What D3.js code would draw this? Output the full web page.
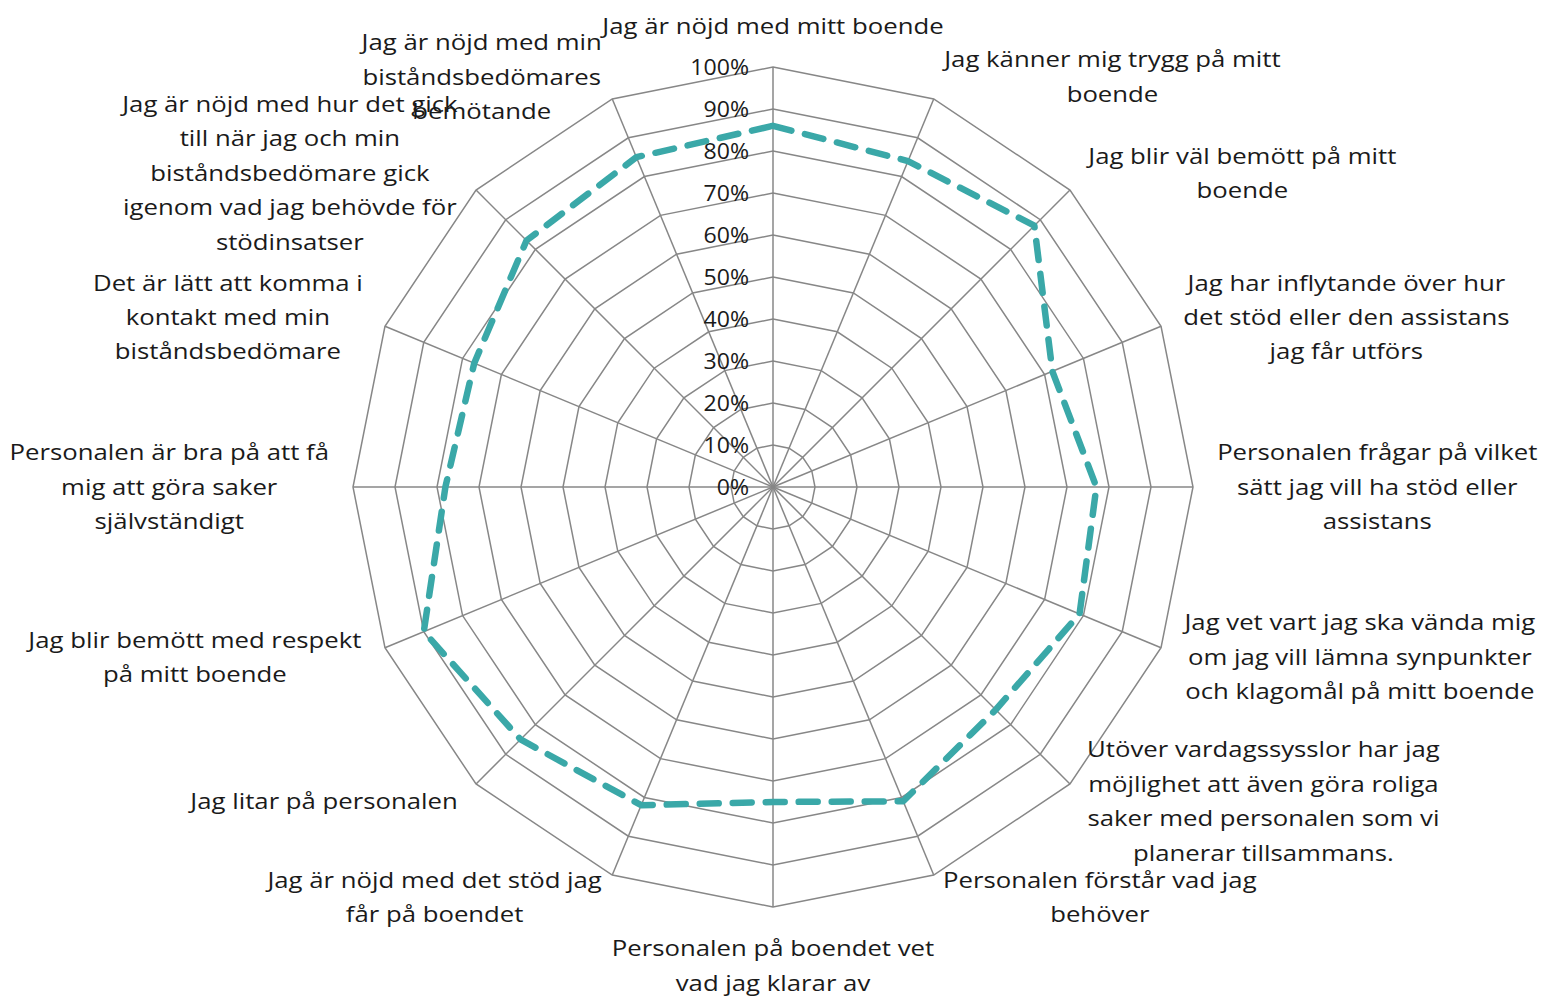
<!DOCTYPE html>
<html>
<head>
<meta charset="utf-8">
<script src="https://cdn.jsdelivr.net/npm/d3@7"></script>
<style>
  body { margin: 0; background: #fff; }
  text { font-family: "Open Sans", sans-serif; fill: #1a1a1a; }
</style>
</head>
<body>
<svg id="chart" width="1543" height="1000"></svg>
<script>
// categories, clockwise from the top (line breaks as in the chart)
const categories = [
  "Jag är nöjd med mitt boende",
  "Jag känner mig trygg på mitt\nboende",
  "Jag blir väl bemött på mitt\nboende",
  "Jag har inflytande över hur\ndet stöd eller den assistans\njag får utförs",
  "Personalen frågar på vilket\nsätt jag vill ha stöd eller\nassistans",
  "Jag vet vart jag ska vända mig\nom jag vill lämna synpunkter\noch klagomål på mitt boende",
  "Utöver vardagssysslor har jag\nmöjlighet att även göra roliga\nsaker med personalen som vi\nplanerar tillsammans.",
  "Personalen förstår vad jag\nbehöver",
  "Personalen på boendet vet\nvad jag klarar av",
  "Jag är nöjd med det stöd jag\nfår på boendet",
  "Jag litar på personalen",
  "Jag blir bemött med respekt\npå mitt boende",
  "Personalen är bra på att få\nmig att göra saker\nsjälvständigt",
  "Det är lätt att komma i\nkontakt med min\nbiståndsbedömare",
  "Jag är nöjd med hur det gick\ntill när jag och min\nbiståndsbedömare gick\nigenom vad jag behövde för\nstödinsatser",
  "Jag är nöjd med min\nbiståndsbedömares\nbemötande"
];
const values = [0.86, 0.84, 0.88, 0.72, 0.77, 0.79, 0.75, 0.81, 0.75, 0.82, 0.85, 0.90, 0.78, 0.77, 0.83, 0.85];
const ticks = [0, 0.1, 0.2, 0.3, 0.4, 0.5, 0.6, 0.7, 0.8, 0.9, 1.0];

const svg = d3.select("#chart");
const cx = 773, cy = 487, R = 420;
const n = categories.length;
const r = d3.scaleLinear().domain([0, 1]).range([0, R]);
const ang = d3.scaleLinear().domain([0, n]).range([0, 2 * Math.PI]);
const pt = (i, v) => [cx + r(v) * Math.sin(ang(i)), cy - r(v) * Math.cos(ang(i))];

const grid = svg.append("g").attr("stroke", "#878787").attr("stroke-width", 1.5).attr("fill", "none");
ticks.slice(1).forEach(t => {
  grid.append("path").attr("d", d3.line()(d3.range(n).map(i => pt(i, t))) + "Z");
});
d3.range(n).forEach(i => {
  const p = pt(i, 1);
  grid.append("line").attr("x1", cx).attr("y1", cy).attr("x2", p[0]).attr("y2", p[1]);
});

// tick labels (source text is a little stretched horizontally)
svg.append("g").selectAll("text").data(ticks).enter().append("text")
  .attr("text-anchor", "end").style("font-size", "21px")
  .attr("transform", d => `translate(${cx - 24},${cy - r(d)}) scale(1.1,1)`)
  .attr("dy", "0.36em")
  .text(d3.format(".0%"));

// data line
svg.append("path")
  .attr("d", d3.line()(values.map((v, i) => pt(i, v))) + "Z")
  .attr("fill", "none").attr("stroke", "#3aa8a8").attr("stroke-width", 6.5)
  .attr("stroke-dasharray", "19,14").attr("stroke-linecap", "round")
  .attr("stroke-linejoin", "round");

// category labels
const lh = 34.5, off = 24, sx = 1.17;
categories.forEach((c, i) => {
  const lines = c.split("\n");
  const a = ang(i), s = Math.sin(a), co = Math.cos(a);
  const ax = cx + (R + off) * s, ay = cy - (R + off) * co;
  const t = svg.append("text").attr("text-anchor", "middle").style("font-size", "22px");
  lines.forEach((l, k) => t.append("tspan").attr("x", 0).attr("y", k * lh).attr("dy", "0.36em").text(l));
  const w = t.node().getBBox().width * sx, h = lines.length * lh;
  let x = ax, yTop;
  if (Math.abs(s) < 0.01) x = ax; else if (s > 0) x = ax + w / 2; else x = ax - w / 2;
  if (Math.abs(s) < 0.01 && co > 0) yTop = ay - h;
  else if (Math.abs(s) < 0.01 && co < 0) yTop = ay;
  else yTop = ay - h / 2;
  t.attr("transform", `translate(${x},${yTop + lh / 2}) scale(${sx},1)`);
});
</script>
</body>
</html>
